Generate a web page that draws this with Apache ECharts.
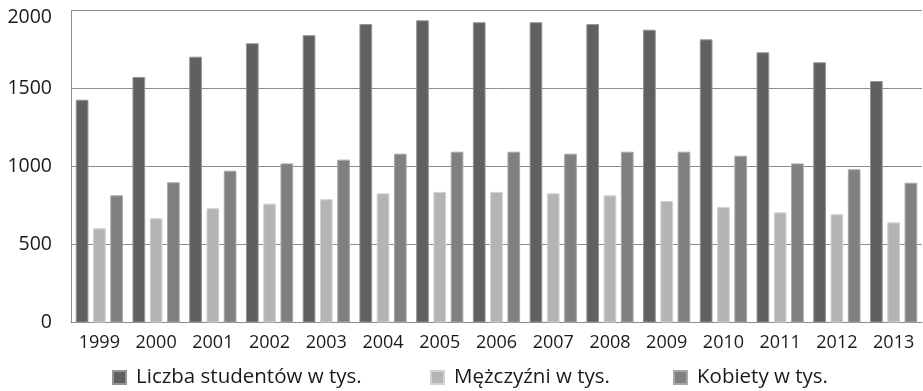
<!DOCTYPE html>
<html>
<head>
<meta charset="utf-8">
<script src="https://cdn.jsdelivr.net/npm/echarts@6/dist/echarts.min.js"></script>
<style>
  html, body { margin: 0; padding: 0; background: #ffffff; }
  #chart { width: 923px; height: 391px; }
</style>
</head>
<body>
<div id="chart"></div>
<script>
// Years on the category axis
const years = ['1999', '2000', '2001', '2002', '2003', '2004', '2005', '2006',
               '2007', '2008', '2009', '2010', '2011', '2012', '2013'];

// Students in thousands
const totalStudents = [1428, 1574, 1704, 1790, 1842, 1913, 1937, 1925,
                       1925, 1913, 1877, 1815, 1732, 1668, 1548];
const men = [604, 668, 732, 762, 790, 828, 837, 837,
             828, 815, 779, 740, 706, 694, 642];
const women = [815, 899, 973, 1020, 1044, 1082, 1095, 1095,
               1082, 1095, 1095, 1069, 1020, 982, 896];

// Value-axis ticks
const yTicks = [0, 500, 1000, 1500, 2000];

const seriesNames = ['Liczba studentów w tys.', 'Mężczyźni w tys.', 'Kobiety w tys.'];

const FONT = '"Open Sans", sans-serif';
const TEXT = '#1a1a1a';
const chart = echarts.init(document.getElementById('chart'), null, { renderer: 'canvas' });

function barSeries(name, data, fill, edge) {
  return {
    name: name,
    type: 'bar',
    data: data,
    barWidth: 12.7,
    barGap: '36%',
    itemStyle: { color: fill, borderColor: edge, borderWidth: 1 },
    emphasis: { disabled: true }
  };
}

// One legend entry per series, placed along the bottom row
const legendLefts = [112, 430, 673];
const legends = seriesNames.map((name, i) => ({
  data: [name],
  left: legendLefts[i],
  top: 367,
  itemWidth: 13,
  itemHeight: 13,
  icon: 'rect',
  padding: 0,
  selectedMode: false,
  textStyle: { fontFamily: FONT, fontSize: 20.5, color: TEXT, padding: [0, 0, 0, 5] }
}));

const maxTick = yTicks[yTicks.length - 1];

chart.setOption({
  animation: false,
  textStyle: { fontFamily: FONT },
  grid: { left: 71, right: 1, top: 10.5, bottom: 68.5, containLabel: false },
  legend: legends,
  xAxis: {
    type: 'category',
    data: years,
    axisLine: { show: true, lineStyle: { color: '#8c8c8c', width: 1 } },
    axisTick: { show: false },
    axisLabel: { fontFamily: FONT, fontSize: 18, color: TEXT, margin: 11, interval: 0 }
  },
  yAxis: {
    type: 'value',
    min: yTicks[0],
    max: maxTick,
    interval: yTicks[1] - yTicks[0],
    axisLine: { show: true, lineStyle: { color: '#8c8c8c', width: 1 } },
    axisTick: { show: false },
    splitLine: { show: true, lineStyle: { color: '#8c8c8c', width: 1 } },
    axisLabel: {
      fontFamily: FONT, fontSize: 19.5, color: TEXT, margin: 19,
      // the top label sits a little below its gridline so it stays inside the canvas
      formatter: v => (v === maxTick ? '{top|' + v + '}' : String(v)),
      rich: {
        top: { fontFamily: FONT, fontSize: 19.5, color: TEXT, padding: [13, 0, 0, 0] }
      }
    }
  },
  series: [
    barSeries(seriesNames[0], totalStudents, '#606060', '#959595'),
    barSeries(seriesNames[1], men, '#b4b4b4', '#d2d2d2'),
    barSeries(seriesNames[2], women, '#808080', '#a8a8a8')
  ]
});
</script>
</body>
</html>
